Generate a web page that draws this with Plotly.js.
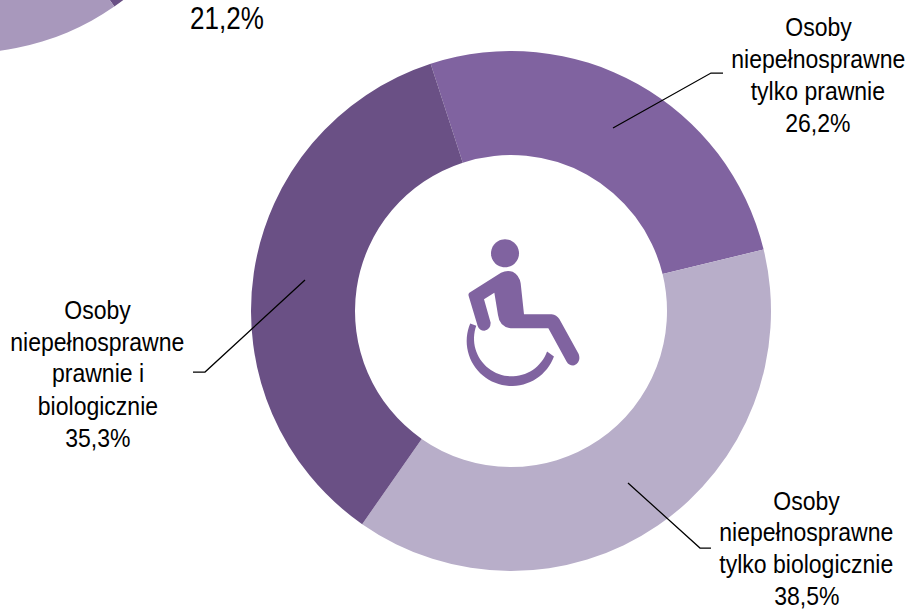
<!DOCTYPE html>
<html><head><meta charset="utf-8">
<script src="https://cdn.plot.ly/plotly-3.0.1.min.js"></script>
<style>html,body{margin:0;padding:0;background:#fff;overflow:hidden;width:910px;height:610px}
#chart{position:absolute;left:-300px;top:-470px;width:1210px;height:1080px}
.annotation-text{transform-box:fill-box;transform-origin:center}</style>
</head><body><div id="chart"></div>
<script>
const categories = ['Osoby niepełnosprawne tylko prawnie','Osoby niepełnosprawne tylko biologicznie','Osoby niepełnosprawne prawnie i biologicznie'];
const shares = [26.2, 38.5, 35.3];
const sliceColors = ['#8063A0','#B8AEC9','#6A5085'];
const upperCategories = ['Poprzedni wycinek','Kolejny wycinek'];
const upperShares = [21.2, 78.8];
const upperColors = ['#6A5085','#A898BC'];
const labelLines = [
  ['Osoby','niepełnosprawne','tylko prawnie','26,2%'],
  ['Osoby','niepełnosprawne','tylko biologicznie','38,5%'],
  ['Osoby','niepełnosprawne','prawnie i','biologicznie','35,3%']
];

const W=1210,H=1080,OX=300,OY=470;
const fx=x=>(x+OX)/W, fy=y=>1-(y+OY)/H;
const P=(x,y)=>fx(x).toFixed(6)+','+fy(y).toFixed(6);
const dom=(cx,cy,r)=>({x:[fx(cx-r),fx(cx+r)],y:[fy(cy+r),fy(cy-r)]});

const pieBase={type:'pie',sort:false,direction:'clockwise',textinfo:'none',hoverinfo:'label+percent'};
const data=[
 Object.assign({},pieBase,{labels:upperCategories,values:upperShares,hole:0.6,rotation:68.9,marker:{colors:upperColors,line:{width:0}},domain:dom(-34,-207,260)}),
 Object.assign({},pieBase,{labels:categories,values:shares,hole:0.6,rotation:-18,marker:{colors:sliceColors,line:{width:0}},domain:dom(511,311,260)})
];

const ICON='#8063A0';
const zx=v=>440+v/3, zy=v=>220+v/3;
const Z=(a,b)=>P(zx(a),zy(b));
const body='M'+Z(88,218)+' L'+Z(183,158)+' Q'+Z(200,150)+' '+Z(218,155)+' Q'+Z(238,165)+' '+Z(242,190)+
 ' L'+Z(252,283)+' L'+Z(335,283)+' Q'+Z(350,285)+' '+Z(358,297)+' L'+Z(416,402)+' Q'+Z(424,425)+' '+Z(403,436)+
 ' Q'+Z(388,438)+' '+Z(380,425)+' L'+Z(325,325)+' L'+Z(212,325)+' Q'+Z(178,320)+' '+Z(174,285)+
 ' L'+Z(163,218)+' L'+Z(132,238)+' L'+Z(152,308)+' Q'+Z(152,328)+' '+Z(133,332)+' Q'+Z(118,332)+' '+Z(113,318)+
 ' L'+Z(86,228)+' Q'+Z(84,222)+' '+Z(88,218)+' Z';
function arcPts(cx,cy,r,a0,a1,n){const o=[];for(let i=0;i<=n;i++){const a=(a0+(a1-a0)*i/n)*Math.PI/180;o.push(Z(cx+r*Math.cos(a),cy+r*Math.sin(a)));}return o;}
const outer=arcPts(215,363,135,203,20,40), inner=arcPts(215,356,113,20,200,40);
const wheel='M'+outer.join(' L')+' L'+inner.join(' L')+' Z';

const line=(pts)=>({type:'path',xref:'paper',yref:'paper',path:'M'+pts.map(p=>P(p[0],p[1])).join(' L'),line:{color:'#000',width:1.25},fillcolor:'rgba(0,0,0,0)'});
const fill=(p)=>({type:'path',xref:'paper',yref:'paper',path:p,fillcolor:ICON,line:{width:0}});
const hc=[505,253.3,14];
const head='M'+arcPts((hc[0]-440)*3,(hc[1]-220)*3,hc[2]*3,0,360,48).join(' L')+' Z';

const leaders=[[[613,128],[711,73],[723,73]],[[628,483],[700,548],[711,548]],[[305,280],[205,372],[193,372]]];
const FONT='"Liberation Sans",Arial,sans-serif';
const text=(x,base,t,size)=>({xref:'paper',yref:'paper',x:fx(x),y:fy(base-0.34*size),xanchor:'center',yanchor:'middle',showarrow:false,align:'center',text:t,font:{family:FONT,size:size,color:'#000'}});
const block=(x,bases,lines)=>lines.map((t,i)=>text(x,bases[i],t,26));
const annotations=[text(227,29,'21,2%',31),
 ...block(818,[36,68,100,132],labelLines[0]),
 ...block(806.5,[510,541,573,605],labelLines[1]),
 ...block(97.5,[319,351,382,415,447],labelLines[2])];
const layout={width:W,height:H,margin:{l:0,r:0,t:0,b:0},paper_bgcolor:'#fff',showlegend:false,
 shapes:[...leaders.map(line),fill(body),fill(wheel),fill(head)],annotations};
Plotly.newPlot('chart',data,layout,{displayModeBar:false}).then(()=>{
  document.querySelectorAll('.annotation-text').forEach((t,i)=>{t.style.transform='scaleX('+(i===0?0.84:0.885)+')';});
});
</script></body></html>
